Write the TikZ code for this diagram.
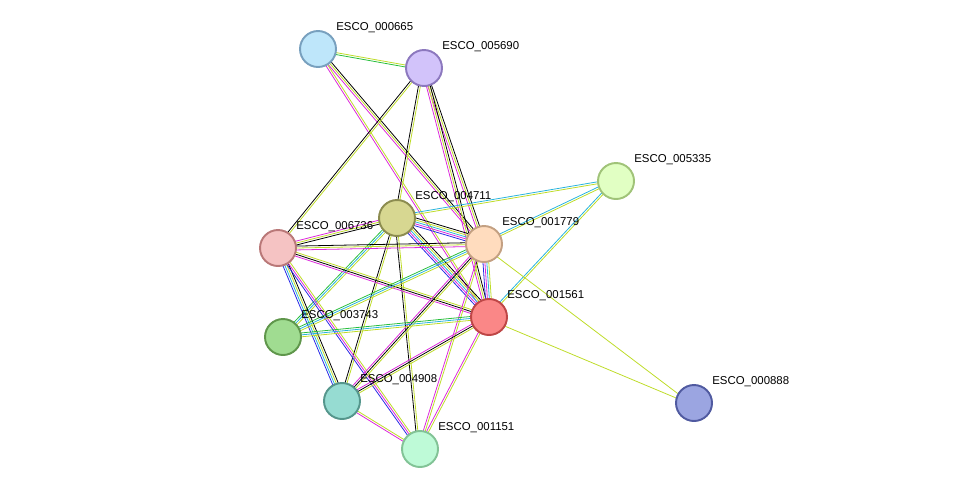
\documentclass[tikz,border=0pt]{standalone}
\usepackage{fontspec}
\setmainfont{Liberation Sans}
\usetikzlibrary{calc}
\definecolor{tm}{RGB}{190,220,40}
\definecolor{ex}{RGB}{220,40,220}
\definecolor{db}{RGB}{40,180,220}
\definecolor{nb}{RGB}{40,190,60}
\definecolor{co}{RGB}{40,40,230}
\newcommand\edge[3]{\foreach \c [count=\i] in {#3} {\draw[\c, line width=0.45pt] ($(#1)!\i*1.1pt-2.4pt!90:(#2)$) -- ($(#2)!\i*1.1pt-2.4pt!-90:(#1)$);}}
\begin{document}
\begin{tikzpicture}
    [
    x=0.02cm, y=-0.02cm,
    prot/.style={circle, minimum size=0.72cm, line width=1.1pt, inner sep=0pt},
    lbl/.style={anchor=west, inner sep=0pt, font=\fontsize{6.5}{7}\selectfont}
    ]
    \useasboundingbox (0,0) rectangle (976,495);

% Proteins
    \coordinate (p665) at (318,49);
    \coordinate (p5690) at (424,68);
    \coordinate (p5335) at (616,181);
    \coordinate (p4711) at (397,218);
    \coordinate (p6736) at (278,248);
    \coordinate (p1779) at (484,244);
    \coordinate (p1561) at (489,317);
    \coordinate (p3743) at (283,337);
    \coordinate (p4908) at (342,401);
    \coordinate (p1151) at (420,449);
    \coordinate (p888) at (694,403);

% Edges
    \edge{p665}{p5690}{nb,tm}
    \edge{p665}{p1779}{ex,tm,black}
    \edge{p665}{p1561}{ex,tm}
    \edge{p5690}{p6736}{black,tm}
    \edge{p5690}{p4711}{black,tm}
    \edge{p5690}{p1779}{ex,tm,black}
    \edge{p5690}{p1561}{ex,tm,black}
    \edge{p5335}{p4711}{db,tm}
    \edge{p5335}{p1779}{db,tm}
    \edge{p5335}{p1561}{db,tm}
    \edge{p4711}{p6736}{ex,tm,black}
    \edge{p4711}{p1779}{co,ex,db,tm,black}
    \edge{p4711}{p1561}{co,ex,db,tm,black}
    \edge{p4711}{p3743}{nb,db,tm}
    \edge{p4711}{p4908}{black,tm}
    \edge{p4711}{p1151}{black,tm}
    \edge{p6736}{p1779}{ex,tm,black}
    \edge{p6736}{p1561}{ex,black,tm}
    \edge{p6736}{p4908}{co,db,tm,black}
    \edge{p6736}{p1151}{co,ex,tm}
    \edge{p1779}{p1561}{co,ex,db,tm}
    \edge{p1779}{p3743}{nb,db,tm}
    \edge{p1779}{p4908}{ex,black,tm}
    \edge{p1779}{p1151}{ex,tm}
    \edge{p1779}{p888}{tm}
    \edge{p1561}{p888}{tm}
    \edge{p1561}{p3743}{nb,db,tm}
    \edge{p1561}{p4908}{ex,black,tm}
    \edge{p1561}{p1151}{ex,tm}
    \edge{p4908}{p1151}{ex,tm}

% Nodes
    \node[prot, draw={rgb,255:red,120;green,160;blue,190}, fill={rgb,255:red,190;green,230;blue,250}] (n665) at (p665) {};
    \node[prot, draw={rgb,255:red,140;green,120;blue,190}, fill={rgb,255:red,210;green,195;blue,250}] (n5690) at (p5690) {};
    \node[prot, draw={rgb,255:red,160;green,195;blue,120}, fill={rgb,255:red,225;green,255;blue,195}] (n5335) at (p5335) {};
    \node[prot, draw={rgb,255:red,140;green,140;blue,80}, fill={rgb,255:red,215;green,215;blue,145}] (n4711) at (p4711) {};
    \node[prot, draw={rgb,255:red,185;green,120;blue,120}, fill={rgb,255:red,245;green,195;blue,195}] (n6736) at (p6736) {};
    \node[prot, draw={rgb,255:red,195;green,160;blue,130}, fill={rgb,255:red,255;green,220;blue,190}] (n1779) at (p1779) {};
    \node[prot, draw={rgb,255:red,190;green,70;blue,70}, fill={rgb,255:red,250;green,135;blue,135}] (n1561) at (p1561) {};
    \node[prot, draw={rgb,255:red,95;green,150;blue,75}, fill={rgb,255:red,160;green,220;blue,145}] (n3743) at (p3743) {};
    \node[prot, draw={rgb,255:red,85;green,150;blue,140}, fill={rgb,255:red,150;green,220;blue,210}] (n4908) at (p4908) {};
    \node[prot, draw={rgb,255:red,130;green,195;blue,150}, fill={rgb,255:red,190;green,250;blue,215}] (n1151) at (p1151) {};
    \node[prot, draw={rgb,255:red,80;green,90;blue,160}, fill={rgb,255:red,155;green,165;blue,225}] (n888) at (p888) {};

% Labels
    \foreach \n/\t in {665/000665, 5690/005690, 5335/005335, 4711/004711, 6736/006736, 1779/001779, 1561/001561, 3743/003743, 4908/004908, 1151/001151, 888/000888}
        \node[lbl] (l\n) at ($(p\n)+(18,-21)$) {ESCO\_\t};

\end{tikzpicture}
\end{document}
